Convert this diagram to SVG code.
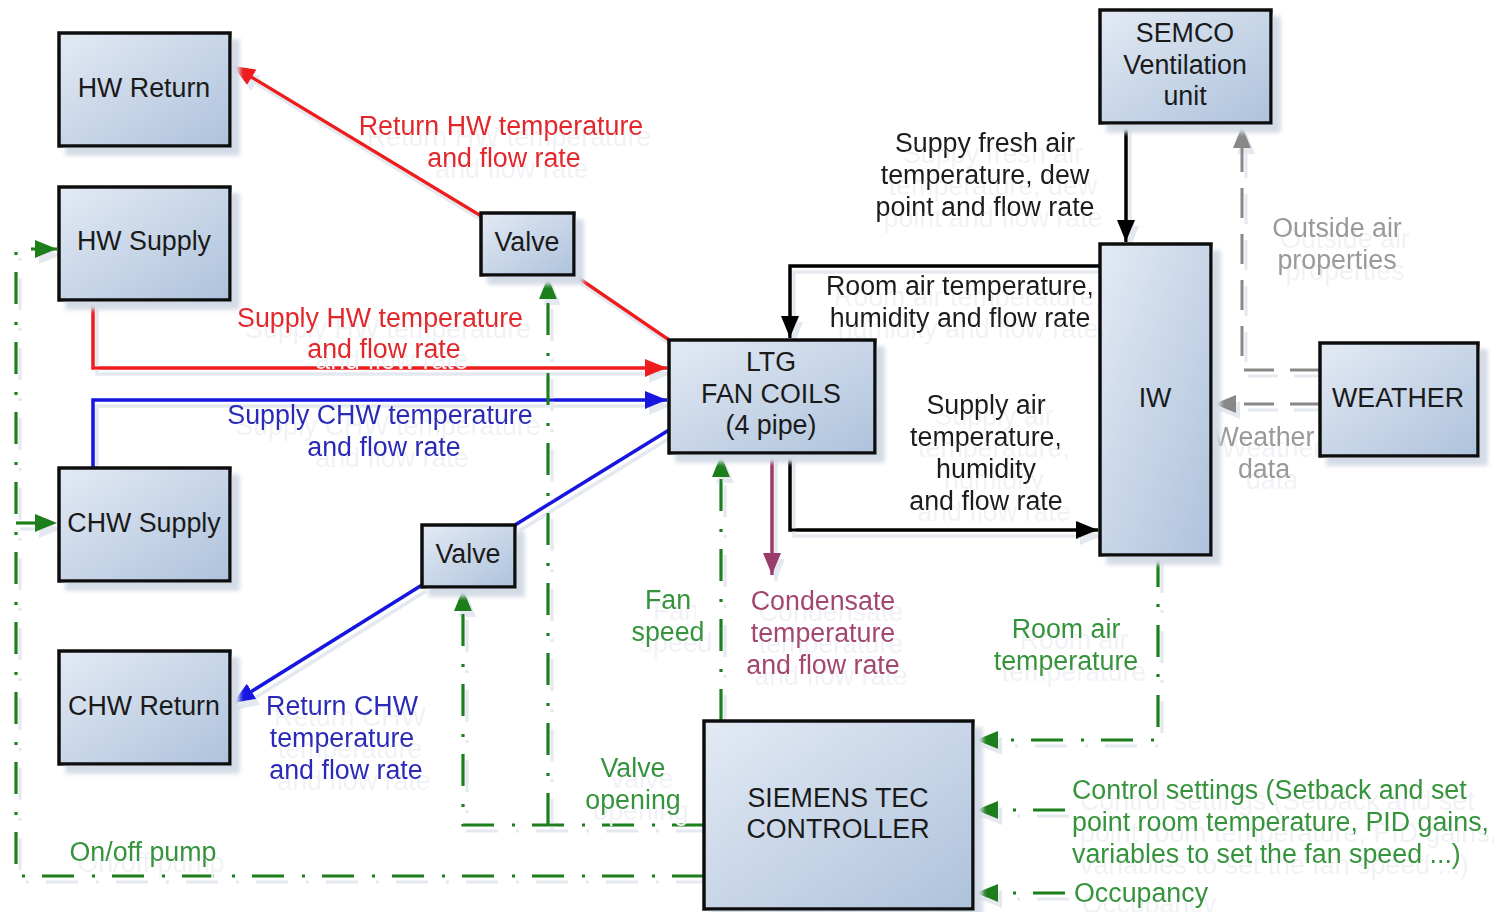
<svg xmlns="http://www.w3.org/2000/svg" width="1494" height="912" viewBox="0 0 1494 912">
<defs>
  <linearGradient id="gb" x1="0" y1="0" x2="1" y2="1">
    <stop offset="0" stop-color="#e3eaf4"/>
    <stop offset="1" stop-color="#aec2dc"/>
  </linearGradient>
  <filter id="sh" x="-10%" y="-10%" width="130%" height="130%">
    <feOffset in="SourceAlpha" dx="8" dy="8" result="o"/>
    <feGaussianBlur in="o" stdDeviation="2" result="b"/>
    <feFlood flood-color="#d3dbe6"/>
    <feComposite in2="b" operator="in" result="s"/>
    <feMerge><feMergeNode in="s"/><feMergeNode in="SourceGraphic"/></feMerge>
  </filter>
  <filter id="ls" x="-5%" y="-5%" width="110%" height="110%">
    <feOffset in="SourceAlpha" dx="4" dy="6" result="o"/>
    <feFlood flood-color="#e4e8ef"/>
    <feComposite in2="o" operator="in" result="s"/>
    <feMerge><feMergeNode in="s"/><feMergeNode in="SourceGraphic"/></feMerge>
  </filter>
  <filter id="ts" x="-5%" y="-20%" width="115%" height="160%">
    <feOffset in="SourceAlpha" dx="8" dy="11" result="o"/>
    <feFlood flood-color="#f1f2f6"/>
    <feComposite in2="o" operator="in" result="s"/>
    <feMerge><feMergeNode in="s"/><feMergeNode in="SourceGraphic"/></feMerge>
  </filter>
  <marker id="aR" markerUnits="userSpaceOnUse" markerWidth="24" markerHeight="18" refX="22" refY="9" orient="auto">
    <path d="M0,0 L22,9 L0,18 z" fill="#ee1c1c"/>
  </marker>
  <marker id="aB" markerUnits="userSpaceOnUse" markerWidth="24" markerHeight="18" refX="22" refY="9" orient="auto">
    <path d="M0,0 L22,9 L0,18 z" fill="#1414e0"/>
  </marker>
  <marker id="aK" markerUnits="userSpaceOnUse" markerWidth="24" markerHeight="18" refX="22" refY="9" orient="auto">
    <path d="M0,0 L22,9 L0,18 z" fill="#000"/>
  </marker>
  <marker id="aM" markerUnits="userSpaceOnUse" markerWidth="24" markerHeight="18" refX="22" refY="9" orient="auto">
    <path d="M0,0 L22,9 L0,18 z" fill="#9b3a6a"/>
  </marker>
  <marker id="aG" markerUnits="userSpaceOnUse" markerWidth="24" markerHeight="18" refX="22" refY="9" orient="auto">
    <path d="M0,0 L22,9 L0,18 z" fill="#1c7f1c"/>
  </marker>
  <marker id="aY" markerUnits="userSpaceOnUse" markerWidth="24" markerHeight="18" refX="22" refY="9" orient="auto">
    <path d="M0,0 L22,9 L0,18 z" fill="#888"/>
  </marker>
</defs>
<style>
  text { font-family: "Liberation Sans", Arial, sans-serif; font-size: 26.8px; }
  .box { fill: url(#gb); stroke: #111; stroke-width: 3.5; }
  .t { fill: #1a1a1a; text-anchor: middle; }
  .c { text-anchor: middle; }
  .red { fill: #e2262a; }
  .blue { fill: #2a2ab8; }
  .green { fill: #34943a; }
  .grey { fill: #999; }
  .maroon { fill: #a3466f; }
  .lbl { filter: url(#ts); }
  .ln { fill: none; stroke-width: 3.5; }
  .lr { stroke: #ee1c1c; }
  .lb { stroke: #1414e0; }
  .lk { stroke: #000; }
  .lm { stroke: #9b3a6a; }
  .lg { stroke: #1c7f1c; stroke-width: 3.2; stroke-dasharray: 32 17 3 18; }
  .ly { stroke: #888; stroke-width: 3; stroke-dasharray: 30 16; }
</style>

<g id="connectors" filter="url(#ls)">
  <path class="ln lr" d="M669,340 L574,275"/>
  <path class="ln lr" d="M481,216 L233,66" marker-end="url(#aR)"/>
  <path class="ln lr" d="M93,300 V368 H667" marker-end="url(#aR)"/>
  <path class="ln lb" d="M93,468 V400 H667" marker-end="url(#aB)"/>
  <path class="ln lb" d="M669,430 L515,525"/>
  <path class="ln lb" d="M422,585 L233,703" marker-end="url(#aB)"/>
  <path class="ln lk" d="M1126,123 V242" marker-end="url(#aK)"/>
  <path class="ln lk" d="M1100,266 H790 V338" marker-end="url(#aK)"/>
  <path class="ln lk" d="M790,453 V530 H1098" marker-end="url(#aK)"/>
  <path class="ln lm" d="M772,453 V575" marker-end="url(#aM)"/>
  <path class="ln ly" d="M1320,370 H1242 V126" marker-end="url(#aY)"/>
  <path class="ln ly" d="M1320,404 H1214" marker-end="url(#aY)"/>
  <path class="ln lg" d="M1158,555 V740 H976" marker-end="url(#aG)"/>
  <path class="ln lg" d="M1065,810 H976" marker-end="url(#aG)"/>
  <path class="ln lg" d="M1065,893 H976" marker-end="url(#aG)"/>
  <path class="ln lg" d="M704,825 H463 V589" marker-end="url(#aG)"/>
  <path class="ln lg" d="M548,825 V277" marker-end="url(#aG)"/>
  <path class="ln lg" d="M721,721 V455" marker-end="url(#aG)"/>
  <path class="ln lg" d="M704,876 H16 V249 H57" marker-end="url(#aG)"/>
  <path class="ln lg" d="M16,523 H57" marker-end="url(#aG)"/>
</g>

<g id="labels">
  <text class="c red lbl" x="501" y="135">Return HW temperature</text>
  <text class="c red lbl" x="504" y="167">and flow rate</text>
  <text class="c red lbl" x="380" y="327">Supply HW temperature</text>
  <text class="c red lbl" x="384" y="358">and flow rate</text>
  <text class="c blue lbl" x="380" y="424">Supply CHW temperature</text>
  <text class="c blue lbl" x="384" y="456">and flow rate</text>
  <text class="c blue lbl" x="342" y="715">Return CHW</text>
  <text class="c blue lbl" x="342" y="747">temperature</text>
  <text class="c blue lbl" x="346" y="779">and flow rate</text>
  <text class="t lbl" x="985" y="152">Suppy fresh air</text>
  <text class="t lbl" x="985" y="184">temperature, dew</text>
  <text class="t lbl" x="985" y="216">point and flow rate</text>
  <text class="t lbl" x="960" y="295">Room air temperature,</text>
  <text class="t lbl" x="960" y="327">humidity and flow rate</text>
  <text class="t lbl" x="986" y="414">Supply air</text>
  <text class="t lbl" x="986" y="446">temperature,</text>
  <text class="t lbl" x="986" y="478">humidity</text>
  <text class="t lbl" x="986" y="510">and flow rate</text>
  <text class="c grey lbl" x="1337" y="237">Outside air</text>
  <text class="c grey lbl" x="1337" y="269">properties</text>
  <text class="c grey lbl" x="1264" y="446">Weather</text>
  <text class="c grey lbl" x="1264" y="478">data</text>
  <text class="c green lbl" x="668" y="609">Fan</text>
  <text class="c green lbl" x="668" y="641">speed</text>
  <text class="c maroon lbl" x="823" y="610">Condensate</text>
  <text class="c maroon lbl" x="823" y="642">temperature</text>
  <text class="c maroon lbl" x="823" y="674">and flow rate</text>
  <text class="c green lbl" x="1066" y="638">Room air</text>
  <text class="c green lbl" x="1066" y="670">temperature</text>
  <text class="c green lbl" x="633" y="777">Valve</text>
  <text class="c green lbl" x="633" y="809">opening</text>
  <text class="c green lbl" x="143" y="861">On/off pump</text>
  <text class="green lbl" x="1072" y="799">Control settings (Setback and set</text>
  <text class="green lbl" x="1072" y="831">point room temperature, PID gains,</text>
  <text class="green lbl" x="1072" y="863">variables to set the fan speed ...)</text>
  <text class="green lbl" x="1074" y="902">Occupancy</text>
</g>

<g id="hw-return"><rect class="box" filter="url(#sh)" x="59" y="33" width="171" height="113"/><text class="t" x="144" y="97">HW Return</text></g>
<g id="hw-supply"><rect class="box" filter="url(#sh)" x="59" y="187" width="171" height="113"/><text class="t" x="144" y="250">HW Supply</text></g>
<g id="chw-supply"><rect class="box" filter="url(#sh)" x="59" y="468" width="171" height="113"/><text class="t" x="144" y="532">CHW Supply</text></g>
<g id="chw-return"><rect class="box" filter="url(#sh)" x="59" y="651" width="171" height="113"/><text class="t" x="144" y="715">CHW Return</text></g>
<g id="valve-hw"><rect class="box" filter="url(#sh)" x="481" y="213" width="93" height="62"/><text class="t" x="527" y="251">Valve</text></g>
<g id="valve-chw"><rect class="box" filter="url(#sh)" x="422" y="525" width="93" height="62"/><text class="t" x="468" y="563">Valve</text></g>
<g id="ltg"><rect class="box" filter="url(#sh)" x="669" y="340" width="206" height="113"/><text class="t" x="771" y="371">LTG</text><text class="t" x="771" y="403">FAN COILS</text><text class="t" x="771" y="434">(4 pipe)</text></g>
<g id="semco"><rect class="box" filter="url(#sh)" x="1100" y="10" width="171" height="113"/><text class="t" x="1185" y="42">SEMCO</text><text class="t" x="1185" y="74">Ventilation</text><text class="t" x="1185" y="105">unit</text></g>
<g id="iw"><rect class="box" filter="url(#sh)" x="1100" y="244" width="111" height="311"/><text class="t" x="1155" y="407">IW</text></g>
<g id="weather"><rect class="box" filter="url(#sh)" x="1320" y="343" width="158" height="113"/><text class="t" x="1398" y="407">WEATHER</text></g>
<g id="siemens"><rect class="box" filter="url(#sh)" x="704" y="721" width="269" height="188"/><text class="t" x="838" y="807">SIEMENS TEC</text><text class="t" x="838" y="838">CONTROLLER</text></g>
</svg>
